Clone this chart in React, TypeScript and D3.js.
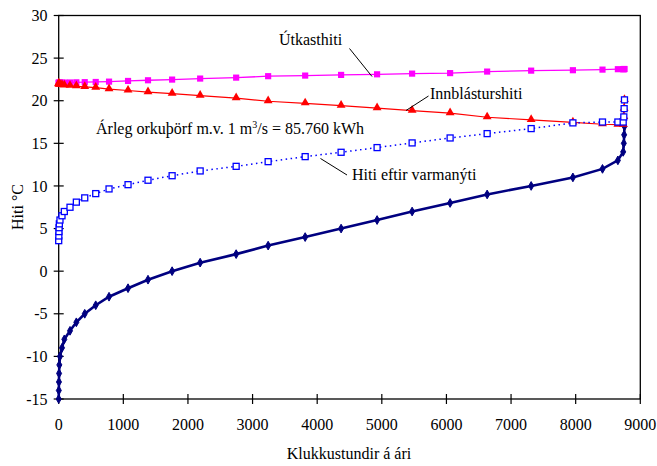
import React from "react";
import * as d3 from "d3";

// Hours per year at or below each outdoor temperature step
const hours = [0, 2, 4, 6, 10, 20, 51, 87, 175, 273, 403, 573, 779, 1073, 1382, 1755, 2189, 2746, 3241, 3814, 4370, 4927, 5469, 6057, 6630, 7311, 7957, 8415, 8653, 8735, 8745, 8750, 8755];
// Outdoor temperature (°C)
const outdoor = [-15, -14, -13, -12, -11, -10, -9, -8, -7, -6, -5, -4, -3, -2, -1, 0, 1, 2, 3, 4, 5, 6, 7, 8, 9, 10, 11, 12, 13, 14, 15, 16, 17];
// Exhaust air temperature (Útkasthiti)
const exhaust = [22.1, 22.1, 22.1, 22.1, 22.1, 22.11, 22.12, 22.13, 22.14, 22.16, 22.18, 22.2, 22.24, 22.32, 22.4, 22.48, 22.6, 22.71, 22.88, 22.95, 23.03, 23.1, 23.18, 23.24, 23.42, 23.53, 23.58, 23.65, 23.7, 23.7, 23.7, 23.72, 23.72];
// Supply air temperature (Innblásturshiti)
const supply = [22.0, 21.98, 21.95, 21.92, 21.9, 21.88, 21.85, 21.8, 21.75, 21.7, 21.63, 21.54, 21.35, 21.2, 21.0, 20.83, 20.6, 20.3, 19.94, 19.7, 19.43, 19.12, 18.84, 18.55, 18.06, 17.75, 17.45, 17.24, 17.2, 17.2, 18.1, 19.07, 20.1];
// Temperature after heat recovery (Hiti eftir varmanýti)
const recovered = [3.58, 4.13, 4.64, 5.1, 5.55, 6.0, 6.5, 7.0, 7.5, 8.1, 8.6, 9.1, 9.65, 10.15, 10.67, 11.2, 11.76, 12.3, 12.85, 13.44, 13.95, 14.5, 15.05, 15.63, 16.14, 16.73, 17.4, 17.5, 17.5, 17.5, 18.1, 19.07, 20.1];

const xTicks = [0, 1000, 2000, 3000, 4000, 5000, 6000, 7000, 8000, 9000];
const yTicks = [-15, -10, -5, 0, 5, 10, 15, 20, 25, 30];

const W = 657;
const H = 466;
const FONT = "'Liberation Serif', 'Times New Roman', serif";

export default function App() {
  const x = d3.scaleLinear().domain([0, 9000]).range([58.7, 640.3]);
  const y = d3.scaleLinear().domain([-15, 30]).range([399, 15.5]);

  const pts = (vals: number[]) => hours.map((h, i) => [x(h), y(vals[i])] as [number, number]);
  const line = d3.line();

  const outdoorPts = pts(outdoor);
  const exhaustPts = pts(exhaust);
  const supplyPts = pts(supply);
  const recoveredPts = pts(recovered);

  const diamond = d3.symbol().type(d3.symbolDiamond).size(22)() as string;
  const square = d3.symbol().type(d3.symbolSquare).size(38)() as string;
  const triangle = d3.symbol().type(d3.symbolTriangle).size(34)() as string;

  const [x0, x1] = x.range();
  const [y0, y1] = y.range();

  return (
    <svg
      width={W}
      height={H}
      style={{ position: "absolute", left: 0, top: 0, background: "#fff" }}
      fontFamily={FONT}
    >
      {/* frame */}
      <rect x={x0} y={y1} width={x1 - x0} height={y0 - y1} fill="none" stroke="#000" strokeWidth={1.3} />

      {/* y axis ticks and labels */}
      {yTicks.map((t) => (
        <g key={"y" + t}>
          <line x1={x0 - 5} x2={x0 + 5} y1={y(t)} y2={y(t)} stroke="#000" strokeWidth={1.2} />
          <text x={47.5} y={y(t)} dy="0.35em" textAnchor="end" fontSize={16}>
            {t}
          </text>
        </g>
      ))}

      {/* x axis ticks and labels */}
      {xTicks.map((t) => (
        <g key={"x" + t}>
          <line x1={x(t)} x2={x(t)} y1={y0 - 5} y2={y0 + 5} stroke="#000" strokeWidth={1.2} />
          <text x={x(t)} y={430} textAnchor="middle" fontSize={16}>
            {t}
          </text>
        </g>
      ))}

      <text x={349} y={459} textAnchor="middle" fontSize={16}>
        Klukkustundir á ári
      </text>
      <text transform={`translate(23,207) rotate(-90)`} textAnchor="middle" fontSize={16}>
        Hiti °C
      </text>

      {/* outdoor temperature duration curve */}
      <path d={line(outdoorPts) as string} fill="none" stroke="#000080" strokeWidth={2.6} />
      {outdoorPts.map(([px, py], i) => (
        <path key={"o" + i} d={diamond} transform={`translate(${px},${py})`} fill="#000080" stroke="#000080" strokeWidth={1} />
      ))}

      {/* exhaust air */}
      <path d={line(exhaustPts) as string} fill="none" stroke="#FF00FF" strokeWidth={1.3} />
      {exhaustPts.map(([px, py], i) => (
        <path key={"e" + i} d={square} transform={`translate(${px},${py})`} fill="#FF00FF" />
      ))}

      {/* supply air */}
      <path d={line(supplyPts) as string} fill="none" stroke="#FF0000" strokeWidth={1.2} />
      {supplyPts.map(([px, py], i) => (
        <path key={"s" + i} d={triangle} transform={`translate(${px},${py - 0.5})`} fill="#FF0000" />
      ))}

      {/* after heat recovery */}
      <path d={line(recoveredPts) as string} fill="none" stroke="#0000FF" strokeWidth={1.5} strokeDasharray="1.5 3.5" />
      {recoveredPts.map(([px, py], i) => (
        <rect key={"r" + i} x={px - 3} y={py - 3} width={6} height={6} fill="#fff" stroke="#0000FF" strokeWidth={1.3} />
      ))}

      {/* annotations */}
      <text x={279} y={45} fontSize={16}>Útkasthiti</text>
      <line x1={349.5} y1={48.5} x2={372} y2={76.5} stroke="#000" strokeWidth={1} />

      <text x={430} y={99} fontSize={16}>Innblásturshiti</text>
      <line x1={428.5} y1={96} x2={406} y2={110.5} stroke="#000" strokeWidth={1} />

      <text x={96} y={134} fontSize={16}>
        Árleg orkuþörf m.v. 1 m<tspan dy={-6} fontSize={10}>3</tspan>
        <tspan dy={6}>/s = 85.760 kWh</tspan>
      </text>

      <text x={352} y={180} fontSize={16}>Hiti eftir varmanýti</text>
      <line x1={320.5} y1={158.5} x2={347} y2={175} stroke="#000" strokeWidth={1} />
    </svg>
  );
}
